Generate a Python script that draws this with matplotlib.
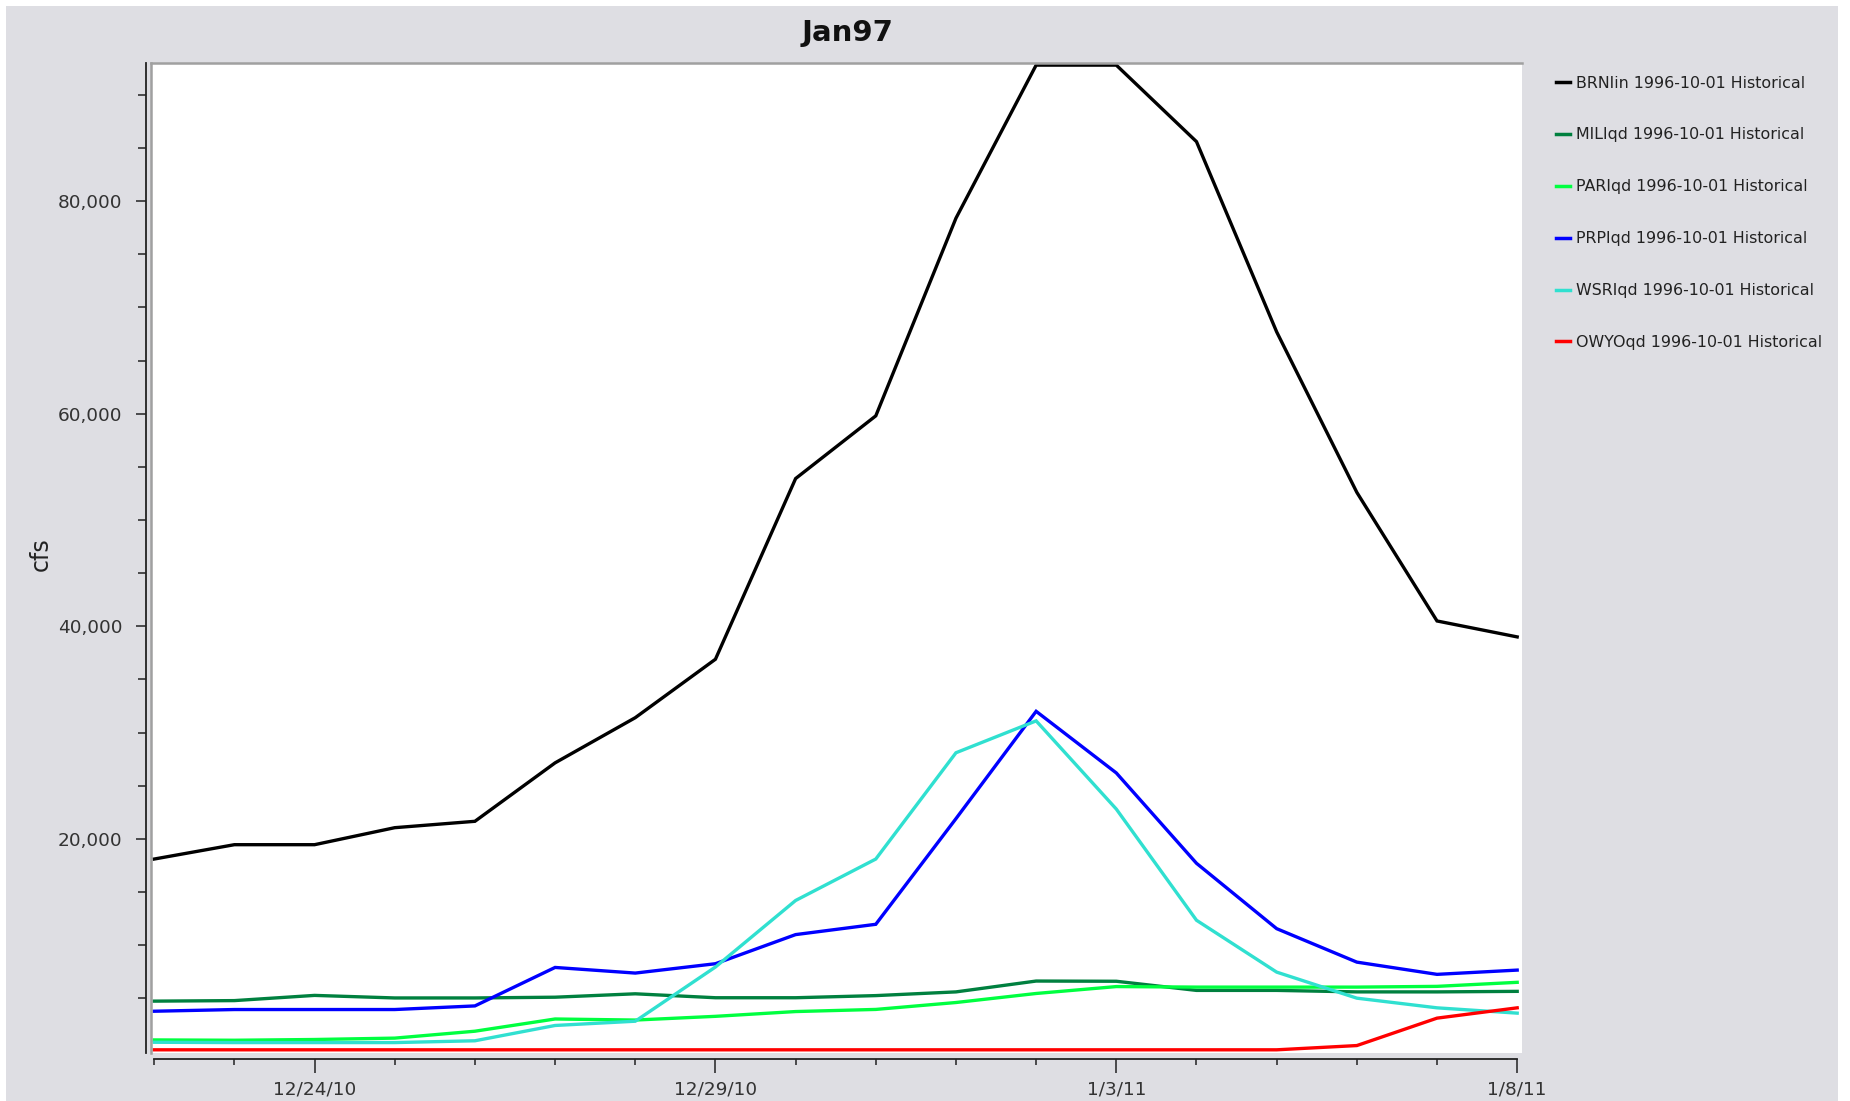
import matplotlib
matplotlib.use("Agg")
import matplotlib.pyplot as plt
import matplotlib.dates as mdates
from matplotlib.patches import Rectangle
from matplotlib.ticker import FuncFormatter, FixedLocator
import pandas as pd

# daily flows, 12/22/2010 .. 1/8/2011
dates = pd.date_range("2010-12-22", "2011-01-08", freq="D")

brni = [18100, 19450, 19450, 21050, 21650, 27150, 31400, 36900, 53900, 59800,
        78400, 92800, 92800, 85600, 67700, 52600, 40500, 39000]
mili = [4730, 4780, 5270, 5030, 5030, 5100, 5420, 5050, 5050, 5250,
        5600, 6620, 6600, 5740, 5740, 5600, 5600, 5650]
pari = [1080, 1050, 1120, 1250, 1900, 3050, 2950, 3300, 3750, 3950,
        4600, 5450, 6100, 6050, 6050, 6050, 6120, 6500]
prpi = [3780, 3940, 3940, 3940, 4280, 7900, 7370, 8250, 10990, 11960,
        21900, 32000, 26200, 17700, 11550, 8400, 7250, 7650]
wsri = [860, 830, 830, 830, 1000, 2440, 2840, 7940, 14200, 18100,
        28100, 31100, 22800, 12340, 7460, 5010, 4100, 3600]
owyo = [150, 150, 150, 150, 150, 150, 150, 150, 150, 150,
        150, 150, 150, 150, 150, 550, 3130, 4100]

series = [
    ("BRNIin 1996-10-01 Historical", brni, "#000000"),
    ("MILIqd 1996-10-01 Historical", mili, "#00803F"),
    ("PARIqd 1996-10-01 Historical", pari, "#00FF40"),
    ("PRPIqd 1996-10-01 Historical", prpi, "#0000FF"),
    ("WSRIqd 1996-10-01 Historical", wsri, "#30E0D0"),
    ("OWYOqd 1996-10-01 Historical", owyo, "#FF0000"),
]

y_major = [20000, 40000, 60000, 80000]
y_minor = list(range(5000, 95000, 5000))

W, H = 1850, 1101
BG = "#DEDEE3"

fig = plt.figure(figsize=(W / 100, H / 100), dpi=100, facecolor="white")
fig.add_artist(Rectangle((6 / W, 0), (1838 - 6) / W, (H - 6) / H,
                         transform=fig.transFigure, facecolor=BG,
                         edgecolor="none", zorder=-10))

# plot area in pixels: left 151, right 1522, top 63, bottom 1053
ax = fig.add_axes([151 / W, (H - 1053) / H, (1522 - 151) / W, (1053 - 63) / H])
ax.set_facecolor("white")

for label, vals, col in series:
    ax.plot(dates, vals, color=col, lw=2.4, label=label, solid_joinstyle="miter")

d0 = mdates.date2num(dates[0])
d1 = mdates.date2num(dates[-1])
ax.set_xlim(d0 - 0.04, d1 + 0.06)
ax.set_ylim(-150, 93000)

# axes frame: gray border on top/left of the plot, black axis lines set apart
ax.spines["right"].set_visible(False)
ax.spines["top"].set_color("#A0A0A0")
ax.spines["top"].set_linewidth(1.8)
ax.spines["left"].set_position(("outward", 3.6))
ax.spines["bottom"].set_position(("outward", 4.3))
ax.spines["bottom"].set_bounds(d0, d1)
for s in ("left", "bottom"):
    ax.spines[s].set_color("#222222")
    ax.spines[s].set_linewidth(1.3)
ax.plot([0, 0], [0, 1], transform=ax.transAxes, color="#A0A0A0", lw=1.8,
        clip_on=False, zorder=5)

# y ticks
ax.yaxis.set_major_locator(FixedLocator(y_major))
ax.yaxis.set_minor_locator(FixedLocator(y_minor))
ax.yaxis.set_major_formatter(FuncFormatter(lambda v, p: f"{int(v):,}"))
ax.tick_params(axis="y", which="major", length=7, width=1.1, pad=10,
               labelsize=13.3, colors="#222222", labelcolor="#333333")
ax.tick_params(axis="y", which="minor", length=6, width=1.1, colors="#222222")

# x ticks: daily minor, every 5 days labelled
major_days = [dates[2], dates[7], dates[12], dates[17]]
ax.xaxis.set_major_locator(FixedLocator([mdates.date2num(d) for d in major_days]))
ax.xaxis.set_minor_locator(FixedLocator([mdates.date2num(d) for d in dates]))
ax.xaxis.set_major_formatter(FuncFormatter(
    lambda v, p: (lambda d: f"{d.month}/{d.day}/{d.strftime('%y')}")(mdates.num2date(v))))
ax.tick_params(axis="x", which="major", length=10, width=1.1, pad=5.5,
               labelsize=13.3, colors="#222222", labelcolor="#333333")
ax.tick_params(axis="x", which="minor", length=4.3, width=1.1, colors="#222222")

fig.text(848 / W, 1 - 33 / H, "Jan97", ha="center", va="center",
         fontsize=21, fontweight="bold", color="#111111")
fig.text(41 / W, 1 - 554 / H, "cfs", rotation=90, ha="center", va="center",
         fontsize=17, color="#222222")

leg = ax.legend(loc="upper left", bbox_to_anchor=(1556 / W, 1 - 75.5 / H),
                bbox_transform=fig.transFigure, frameon=False, fontsize=11.4,
                handlelength=0.9, handletextpad=0.35, labelspacing=2.33,
                borderaxespad=0, borderpad=0)
for t in leg.get_texts():
    t.set_color("#222222")
for h in leg.get_lines():
    h.set_linewidth(2.5)

fig.savefig("out.png", dpi=100, facecolor=fig.get_facecolor())
